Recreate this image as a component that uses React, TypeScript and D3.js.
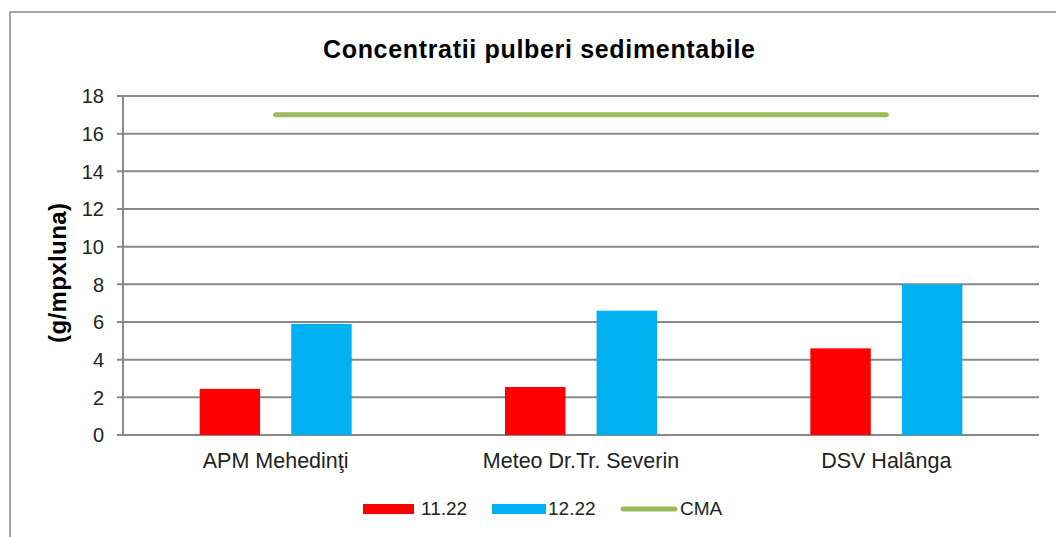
import React from "react";
import * as d3 from "d3";

const categories = ["APM Mehedinţi", "Meteo Dr.Tr. Severin", "DSV Halânga"];
const seriesNames = ["11.22", "12.22"];
const values1122 = [2.45, 2.55, 4.6];
const values1222 = [5.9, 6.6, 8.0];
const cmaValues = [17, 17, 17];
const yTicks = [0, 2, 4, 6, 8, 10, 12, 14, 16, 18];

const W = 1056;
const H = 537;
const margin = { left: 123, right: 17, top: 96, bottom: 102 };
const barColors = ["#ff0000", "#00b0f0"];
const cmaColor = "#9bbb59";
const gridColor = "#888888";
const font = "'Liberation Sans', Arial, sans-serif";

const App = () => {
  const x0 = d3
    .scaleBand()
    .domain(categories)
    .range([margin.left, W - margin.right]);
  // two bars per category, excel-ish gap
  const x1 = d3
    .scaleBand()
    .domain(seriesNames)
    .range([0, x0.bandwidth()])
    .paddingInner(0.34)
    .paddingOuter(0.837);
  const y = d3
    .scaleLinear()
    .domain([0, 18])
    .range([H - margin.bottom, margin.top]);

  const series = [values1122, values1222];
  const line = d3
    .line<number>()
    .x((_, i) => x0(categories[i])! + x0.bandwidth() / 2)
    .y((d) => y(d));

  return (
    <svg
      width={W}
      height={H}
      style={{ position: "absolute", left: 0, top: 0 }}
      fontFamily={font}
    >
      <rect x={0} y={0} width={W} height={H} fill="#fff" />
      <rect
        x={10}
        y={12}
        width={W + 20}
        height={H + 20}
        fill="none"
        stroke={gridColor}
        strokeWidth={1.5}
      />
      <text
        x={539}
        y={58}
        textAnchor="middle"
        fontWeight="bold"
        fontSize="25px"
        textLength={432}
        lengthAdjust="spacing"
        fill="#000"
      >
        Concentratii pulberi sedimentabile
      </text>
      <text
        transform="translate(66, 273) rotate(-90)"
        textAnchor="middle"
        fontWeight="bold"
        fontSize="24px"
        textLength={140}
        lengthAdjust="spacing"
        fill="#000"
      >
        (g/mpxluna)
      </text>

      {/* gridlines + y ticks */}
      {yTicks.map((t) => (
        <g key={t}>
          <line
            x1={margin.left - 6}
            x2={W - margin.right}
            y1={y(t)}
            y2={y(t)}
            stroke={gridColor}
            strokeWidth={2}
          />
          <text
            x={104}
            y={y(t)}
            dy="0.36em"
            textAnchor="end"
            fontSize="20px"
            fill="#222"
          >
            {t}
          </text>
        </g>
      ))}
      <line
        x1={margin.left}
        x2={margin.left}
        y1={margin.top}
        y2={H - margin.bottom}
        stroke={gridColor}
        strokeWidth={2}
      />

      {/* bars */}
      {categories.map((c, i) => (
        <g key={c} transform={`translate(${x0(c)},0)`}>
          {series.map((s, j) => (
            <rect
              key={j}
              x={x1(seriesNames[j])}
              y={y(s[i])}
              width={x1.bandwidth()}
              height={y(0) - y(s[i])}
              fill={barColors[j]}
            />
          ))}
          <text
            x={x0.bandwidth() / 2}
            y={468}
            textAnchor="middle"
            fontSize="21.5px"
            fill="#222"
          >
            {c}
          </text>
        </g>
      ))}

      <path
        d={line(cmaValues)!}
        fill="none"
        stroke={cmaColor}
        strokeWidth={5}
        strokeLinecap="round"
      />

      {/* legend */}
      <g fontSize="19px" fill="#222">
        <rect x={363} y={504} width={51} height={10} fill={barColors[0]} />
        <text x={421} y={515}>
          11.22
        </text>
        <rect x={492} y={504} width={54} height={10} fill={barColors[1]} />
        <text x={548} y={515}>
          12.22
        </text>
        <line
          x1={623}
          x2={675}
          y1={509}
          y2={509}
          stroke={cmaColor}
          strokeWidth={5}
          strokeLinecap="round"
        />
        <text x={680} y={515}>
          CMA
        </text>
      </g>
    </svg>
  );
};

export default App;
